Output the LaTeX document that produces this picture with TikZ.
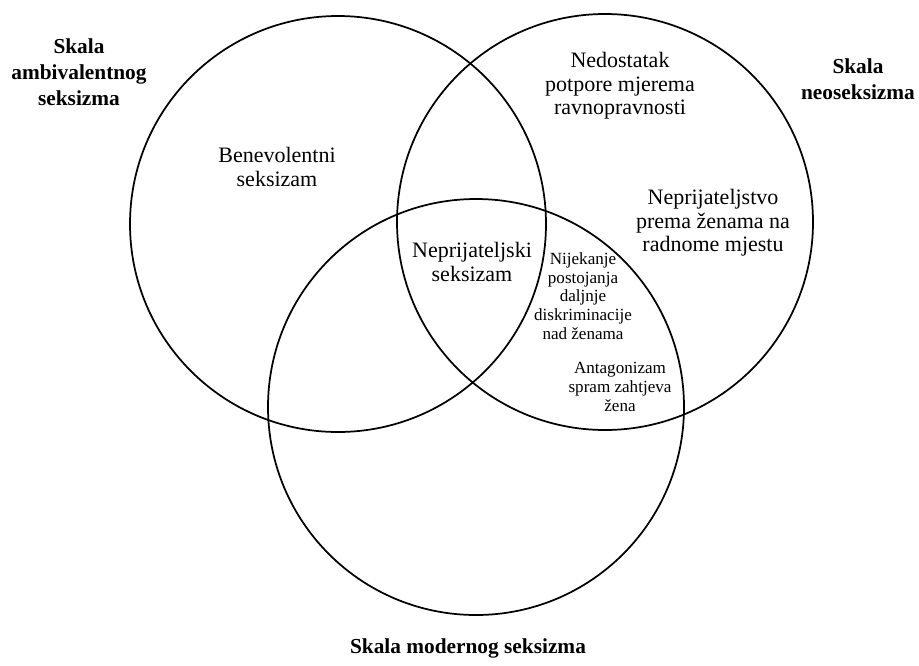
\documentclass[tikz,border=0pt]{standalone}
\usepackage{fontspec}
\setmainfont{Liberation Serif}
\usepackage{tikz}

\begin{document}
\begin{tikzpicture}[x=0.75pt,y=-0.75pt,
	venn/.style={shape=circle,draw=black,line width=1.3pt,inner sep=0pt,minimum size=312pt},
	skala/.style={align=center,font=\fontsize{16}{19.5}\selectfont\bfseries},
	podrucje/.style={align=center,font=\fontsize{16.5}{17.5}\selectfont},
	malo/.style={align=center,font=\fontsize{12.8}{14}\selectfont}]

	\useasboundingbox (0,0) rectangle (919,665);

	% the three scales
	\node[venn] (ambiv) at (338, 224) {};
	\node[venn] (neo)   at (605, 222) {};
	\node[venn] (moder) at (476, 407) {};

	\node[skala] (ambivnaziv) at (79, 72)  {Skala\\ambivalentnog\\seksizma};
	\node[skala] (neonaziv)   at (858, 79) {Skala\\neoseksizma};
	\node[skala] (modernaziv) at (468, 648) {Skala modernog seksizma};

	% subscales
	\node[podrucje] (benev)   at (277, 167) {Benevolentni\\seksizam};
	\node[podrucje] (nedost)  at (620, 86)  {Nedostatak\\potpore mjerema\\ravnopravnosti};
	\node[podrucje] (neprst)  at (713, 223) {Neprijateljstvo\\prema ženama na\\radnome mjestu};
	\node[podrucje] (neprsek) at (472, 262) {Neprijateljski\\seksizam};
	\node[malo]     (nijek)   at (583, 296) {Nijekanje\\postojanja\\daljnje\\diskriminacije\\nad ženama};
	\node[malo]     (antag)   at (620, 387) {Antagonizam\\spram zahtjeva\\žena};

\end{tikzpicture}
\end{document}
